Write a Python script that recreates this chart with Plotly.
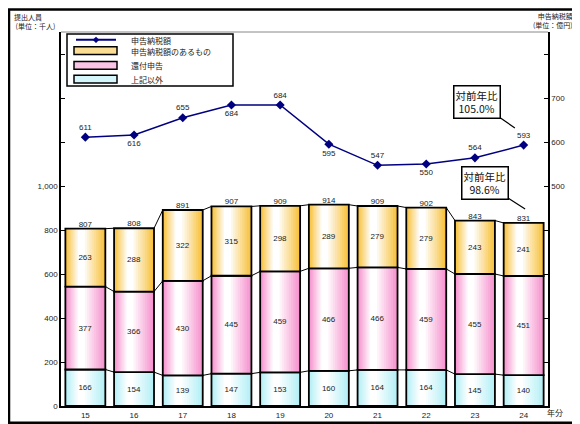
import plotly.graph_objects as go

years = ["15", "16", "17", "18", "19", "20", "21", "22", "23", "24"]
other = [166, 154, 139, 147, 153, 160, 164, 164, 145, 140]
refund = [377, 366, 430, 445, 459, 466, 466, 459, 455, 451]
taxable = [263, 288, 322, 315, 298, 289, 279, 279, 243, 241]
totals = [807, 808, 891, 907, 909, 914, 909, 902, 843, 831]
tax_amount = [611, 616, 655, 684, 684, 595, 547, 550, 564, 593]
tax_label_pos = ["top center", "bottom center", "top center", "bottom center", "top center",
                 "bottom center", "top center", "bottom center", "top center", "top center"]

left_ticks = [0, 200, 400, 600, 800, 1000, 1200, 1400, 1600]
left_ticktext = ["0", "200", "400", "600", "800", "1,000", "", "", ""]
right_ticks = [0, 100, 200, 300, 400, 500, 600, 700, 800]
right_ticktext = ["", "", "", "", "", "500", "600", "700", ""]

W, H = 580, 424
ML, MR, MT, MB = 53, 40, 24, 19
pw, ph = W - ML - MR, H - MT - MB
BW = 0.82
N = 10
FONT = "Liberation Sans, Arial, sans-serif"
JFONT = "Noto Sans CJK JP, sans-serif"
TXT = "#222"


def px(x):
    return (x - ML) / pw


def py(y):
    return (H - MB - y) / ph


def hex2rgb(h):
    h = h.lstrip("#")
    return tuple(int(h[i:i + 2], 16) for i in (0, 2, 4))


def mix(c, t):
    r, g, b = hex2rgb(c)
    return "rgb(%d,%d,%d)" % (r + (255 - r) * t, g + (255 - g) * t, b + (255 - b) * t)


xs = list(range(len(years)))
fig = go.Figure()

series = [
    ("申告納税額のあるもの", taxable, "#F8C23E"),
    ("還付申告", refund, "#F794CF"),
    ("上記以外", other, "#B4F0F6"),
]
bases = [0] * len(years)
stack_tops = {}
for name, vals, col in reversed(series):
    # gradient layers
    for k in range(N):
        shrink = BW * k / N * 0.92
        w = BW - shrink
        off = -BW / 2 + shrink * 0.38
        fig.add_trace(go.Bar(
            x=xs, y=vals, base=bases, name=name, width=w, offset=off,
            marker=dict(color=mix(col, k / (N - 1)), line=dict(width=0)),
            showlegend=False, hoverinfo="skip",
        ))
    # outline + labels
    fig.add_trace(go.Bar(
        x=xs, y=vals, base=bases, name=name, width=BW,
        marker=dict(color="rgba(0,0,0,0)", line=dict(color="black", width=1.8)),
        text=[str(v) for v in vals], textposition="inside", insidetextanchor="middle",
        textangle=0, constraintext="none",
        textfont=dict(size=8, color=TXT, family=FONT), showlegend=False,
    ))
    bases = [b + v for b, v in zip(bases, vals)]
    stack_tops[name] = list(bases)

# series connector lines
for name, tops in stack_tops.items():
    lx, ly = [], []
    for i in range(len(xs) - 1):
        lx += [xs[i] + BW / 2, xs[i + 1] - BW / 2, None]
        ly += [tops[i], tops[i + 1], None]
    fig.add_trace(go.Scatter(x=lx, y=ly, mode="lines", showlegend=False,
                             line=dict(color="black", width=1), hoverinfo="skip"))

# totals
fig.add_trace(go.Scatter(
    x=xs, y=stack_tops["申告納税額のあるもの"], mode="text", text=[str(t) for t in totals],
    textposition="top center", textfont=dict(size=8, color=TXT, family=FONT),
    showlegend=False,
))

# line
fig.add_trace(go.Scatter(
    x=xs, y=tax_amount, yaxis="y2", name="申告納税額",
    mode="lines+markers+text", text=[str(v) for v in tax_amount],
    textposition=tax_label_pos, textfont=dict(size=8, color=TXT, family=FONT),
    line=dict(color="#000080", width=1.5),
    marker=dict(symbol="diamond", size=7, color="#000080"), showlegend=False,
))

fig.update_layout(
    width=W, height=H, margin=dict(l=ML, r=MR, t=MT, b=MB),
    paper_bgcolor="white", plot_bgcolor="white", barmode="overlay",
    showlegend=False,
    xaxis=dict(range=[-0.5, len(years) - 0.5], tickmode="array", tickvals=xs, ticktext=years,
               showline=True, linecolor="black", linewidth=2, ticks="", showgrid=False,
               zeroline=False, tickfont=dict(size=8, family=FONT, color=TXT)),
    yaxis=dict(range=[0, 1700], tickvals=left_ticks, ticktext=left_ticktext,
               showline=True, linecolor="black", linewidth=1.5, ticks="inside", ticklen=4,
               tickcolor="black", showgrid=False, zeroline=False,
               tickfont=dict(size=8, family=FONT, color=TXT)),
    yaxis2=dict(range=[0, 850], tickvals=right_ticks, ticktext=right_ticktext,
                overlaying="y", side="right", showline=True, linecolor="black", linewidth=1.5,
                ticks="inside", ticklen=4, tickcolor="black", showgrid=False, zeroline=False,
                tickfont=dict(size=8, family=FONT, color=TXT)),
)

# outer frame and top border
fig.add_shape(type="rect", xref="paper", yref="paper",
              x0=px(1), x1=px(W - 2), y0=py(H - 2), y1=py(1),
              line=dict(color="black", width=2.5), layer="above")
fig.add_shape(type="line", xref="paper", yref="paper", x0=0, x1=1, y0=1, y1=1,
              line=dict(color="#888", width=1))

# manual legend
fig.add_shape(type="rect", xref="paper", yref="paper", x0=px(59), x1=px(225), y0=py(79), y1=py(26),
              line=dict(color="black", width=1.5), fillcolor="white", layer="above")
fig.add_shape(type="line", xref="paper", yref="paper", x0=px(68), x1=px(108), y0=py(32), y1=py(32),
              line=dict(color="#000080", width=2), layer="above")
fig.add_shape(type="path", xref="paper", yref="paper", layer="above",
              path="M %f %f L %f %f L %f %f L %f %f Z" % (px(88), py(29), px(91), py(32),
                                                          px(88), py(35), px(85), py(32)),
              fillcolor="#000080", line=dict(color="#000080", width=0.5))
leg = [("申告納税額", 33, None),
       ("申告納税額のあるもの", 44, (39, 47, series[0][2])),
       ("還付申告", 58, (54, 62, series[1][2])),
       ("上記以外", 72, (68, 76, series[2][2]))]
for text, ty, box in leg:
    if box:
        fig.add_shape(type="rect", xref="paper", yref="paper", layer="above",
                      x0=px(66), x1=px(109), y0=py(box[1]), y1=py(box[0]),
                      fillcolor=mix(box[2], 0.45), line=dict(color="black", width=1.5))
    fig.add_annotation(xref="paper", yref="paper", x=px(121), y=py(ty), xanchor="left",
                       yanchor="middle", showarrow=False, text=text,
                       font=dict(size=8, family=JFONT, color=TXT))

# titles
fig.add_annotation(xref="paper", yref="paper", xanchor="left", yanchor="top", align="left",
                   x=px(4), y=py(2), showarrow=False, text="提出人員<br> (単位：千人)",
                   font=dict(size=7, family=JFONT, color=TXT))
fig.add_annotation(xref="paper", yref="paper", xanchor="right", yanchor="top", align="right",
                   x=px(567), y=py(1), showarrow=False, text="申告納税額<br>(単位：億円)",
                   font=dict(size=7, family=JFONT, color=TXT))
fig.add_annotation(xref="paper", yref="paper", x=px(547), y=py(412),
                   xanchor="center", yanchor="middle", showarrow=False, text="年分",
                   font=dict(size=8, family=JFONT, color=TXT))

# callouts
fig.add_annotation(x=8.82, y=632, xref="x", yref="y2", ax=-38, ay=-26,
                   text="対前年比<br>105.0%", showarrow=True, arrowhead=0, arrowwidth=1.2,
                   arrowcolor="black", bgcolor="white", bordercolor="black", borderwidth=1.5,
                   borderpad=1, font=dict(size=10.5, family=JFONT, color="#111"))
fig.add_annotation(x=9.03, y=895, xref="x", yref="y", ax=-40, ay=-26,
                   text="対前年比<br>98.6%", showarrow=True, arrowhead=0, arrowwidth=1.2,
                   arrowcolor="black", bgcolor="white", bordercolor="black", borderwidth=1.5,
                   borderpad=1, font=dict(size=10.5, family=JFONT, color="#111"))

fig.write_html("out.html")
